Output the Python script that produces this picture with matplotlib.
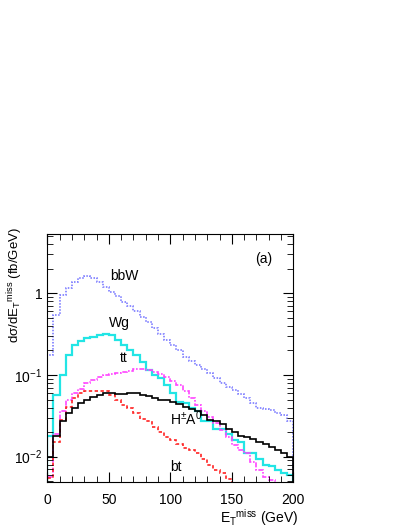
import numpy as np
import matplotlib
matplotlib.use('Agg')
import matplotlib.pyplot as plt

plt.rcParams['font.family'] = ['Liberation Sans', 'DejaVu Sans']
plt.rcParams['mathtext.fontset'] = 'custom'
plt.rcParams['mathtext.rm'] = 'Liberation Sans'
plt.rcParams['mathtext.it'] = 'Liberation Sans'

# 5 GeV bins from 0 to 200 GeV
edges = np.arange(0, 205, 5)

bbW = [0.176, 0.54, 0.95, 1.15, 1.39, 1.53, 1.63, 1.55, 1.39, 1.2,
       1.05, 0.92, 0.79, 0.69, 0.6, 0.52, 0.45, 0.38, 0.32, 0.27,
       0.23, 0.2, 0.168, 0.15, 0.133, 0.118, 0.105, 0.092, 0.079, 0.072,
       0.066, 0.058, 0.052, 0.045, 0.039, 0.038, 0.037, 0.034, 0.032, 0.027]

Wg = [0.018, 0.057, 0.1, 0.176, 0.23, 0.26, 0.28, 0.295, 0.31, 0.315,
      0.31, 0.27, 0.23, 0.2, 0.176, 0.145, 0.115, 0.1, 0.091, 0.075,
      0.06, 0.047, 0.045, 0.039, 0.036, 0.027, 0.027, 0.022, 0.022, 0.019,
      0.016, 0.015, 0.011, 0.011, 0.0095, 0.008, 0.0076, 0.0069, 0.0063, 0.006]

tt = [0.0057, 0.019, 0.036, 0.05, 0.06, 0.068, 0.079, 0.087, 0.095, 0.1,
      0.103, 0.107, 0.11, 0.113, 0.117, 0.118, 0.115, 0.11, 0.103, 0.095,
      0.085, 0.075, 0.063, 0.052, 0.043, 0.036, 0.031, 0.026, 0.021, 0.0175,
      0.014, 0.012, 0.011, 0.0087, 0.0069, 0.0057, 0.0052, 0.0045, 0.004, 0.004]

bt = [0.0055, 0.015, 0.028, 0.041, 0.052, 0.06, 0.063, 0.064, 0.064, 0.063,
      0.057, 0.05, 0.043, 0.039, 0.034, 0.029, 0.027, 0.023, 0.02, 0.0175,
      0.016, 0.0143, 0.0126, 0.012, 0.011, 0.0095, 0.008, 0.0069, 0.0063, 0.0054,
      0.004, 0.004, 0.004, 0.004, 0.004, 0.004, 0.004, 0.004, 0.004, 0.004]

HA = [0.01, 0.018, 0.027, 0.034, 0.04, 0.046, 0.05, 0.054, 0.057, 0.06,
      0.06, 0.059, 0.059, 0.06, 0.061, 0.057, 0.055, 0.053, 0.05, 0.049,
      0.047, 0.044, 0.041, 0.038, 0.036, 0.032, 0.028, 0.027, 0.025, 0.022,
      0.02, 0.018, 0.0175, 0.0163, 0.015, 0.0143, 0.0133, 0.012, 0.011, 0.01]

fig = plt.figure(figsize=(4.09, 5.29), dpi=100)
ax = fig.add_axes([0.1157, 0.0894, 0.6015, 0.468])

ax.stairs(bbW, edges, color='#7070ff', lw=1.1, ls=(0, (1, 1)))
ax.stairs(Wg, edges, color='#22e5e5', lw=1.6)
ax.stairs(tt, edges, color='#ff44ff', lw=1.2, ls=(0, (1, 1, 3, 1)))
ax.stairs(bt, edges, color='#ff2222', lw=1.2, ls=(0, (2, 1.5)))
ax.stairs(HA, edges, color='black', lw=1.2)

ax.set_yscale('log')
ax.set_xlim(0, 200)
ax.set_ylim(0.00494, 5.3)
ax.set_xticks([0, 50, 100, 150, 200])
ax.set_xticks(np.arange(0, 201, 10), minor=True)
ax.set_yticks([0.01, 0.1, 1])
ax.set_yticklabels(['$10^{-2}$', '$10^{-1}$', '1'])
ax.tick_params(which='both', direction='in', top=True, right=True, labelsize=10)
ax.tick_params(which='major', length=7)
ax.tick_params(which='minor', length=4)
ax.tick_params(axis='x', pad=8)

ax.text(51, 1.46, 'bbW', fontsize=10)
ax.text(50, 0.39, 'Wg', fontsize=10)
ax.text(59, 0.143, 'tt', fontsize=10)
ax.text(100, 0.0245, r'H$^{\pm}$A$^{0}$', fontsize=10, zorder=10)
ax.text(100, 0.0067, 'bt', fontsize=10)
ax.text(169, 2.37, '(a)', fontsize=10)

fig.text(0.73, 0.012, r'E$_\mathrm{T}$$^{\mathrm{miss}}$ (GeV)', ha='right', fontsize=10)
fig.text(0.036, 0.461, r'd$\sigma$/dE$_\mathrm{T}$$^{\mathrm{miss}}$ (fb/GeV)',
         rotation=90, ha='center', va='center', fontsize=9.5)

fig.savefig('out.png', dpi=100)
